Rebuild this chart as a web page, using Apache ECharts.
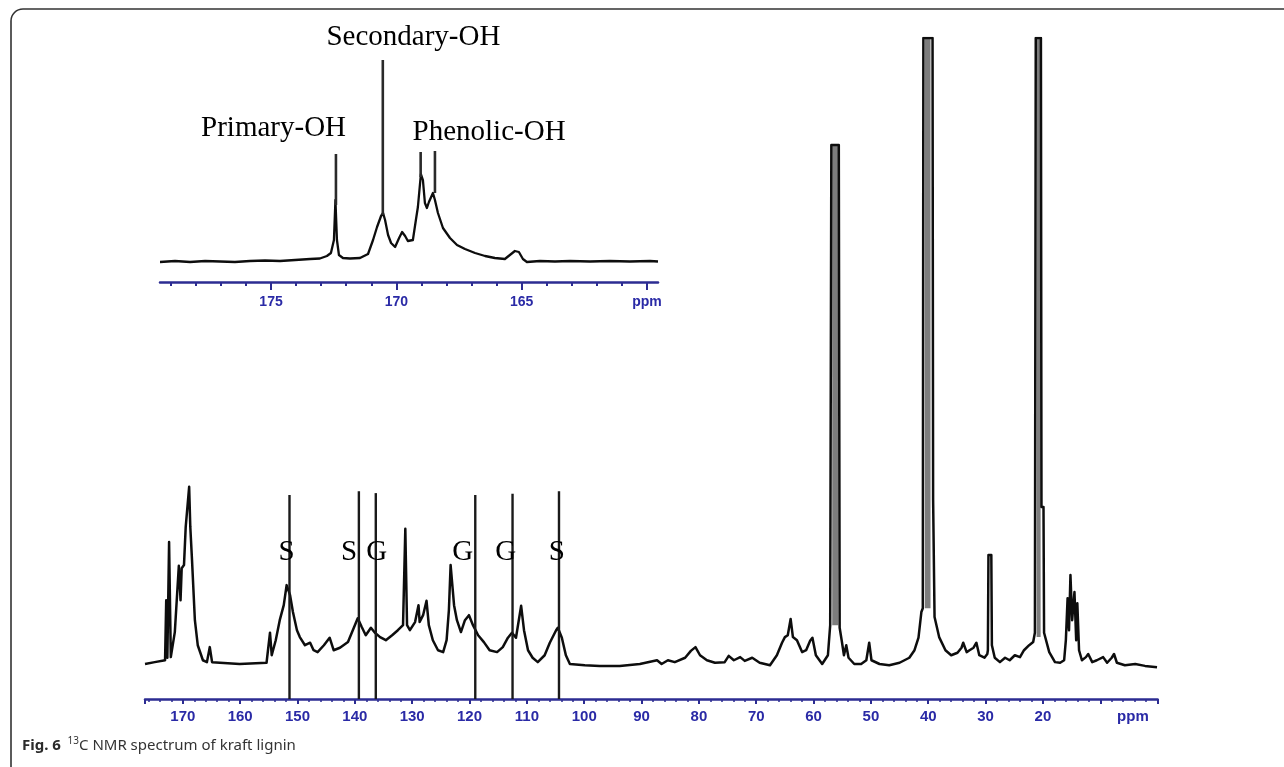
<!DOCTYPE html>
<html><head><meta charset="utf-8">
<script src="https://cdn.jsdelivr.net/npm/echarts@6/dist/echarts.min.js"></script>
<style>html,body{margin:0;padding:0;background:#fff}#c{width:1284px;height:767px}</style>
</head><body><div id="c"></div>
<script>
// ---------- DATA ----------
// Main 13C spectrum: [ppm, relative intensity] (100 = clipped top of plot)
const mainSpectrum = [
 [176.6,0],[174.9,0.3],[173.1,0.6],[172.9,10.2],[172.7,1.0],[172.4,19.5],[172.1,1.1],[171.4,5.1],
 [170.7,15.7],[170.4,10.2],[170.2,15.3],[169.8,15.8],[169.5,21.9],[168.9,28.3],[168.7,21.9],[168.4,16.6],
 [167.9,7.0],[167.4,3.0],[166.5,0.6],[165.8,0.3],[165.3,2.7],[164.9,0.3],[160.1,0],[155.4,0.2],
 [154.8,5.0],[154.5,1.4],[153.8,3.8],[153.1,7.0],[152.4,9.4],[151.9,12.6],[151.3,11.0],[150.8,8.3],
 [150.1,5.4],[149.6,4.3],[148.7,3.0],[147.8,3.4],[147.2,2.2],[146.5,1.9],[145.4,3.0],[144.4,4.2],
 [143.7,2.2],[142.6,2.6],[141.2,3.5],[140.0,6.2],[139.5,7.3],[138.8,5.9],[138.1,4.6],[137.2,5.8],
 [136.5,5.0],[135.6,4.3],[134.6,3.8],[133.5,4.6],[132.5,5.4],[131.6,6.2],[131.2,21.6],[130.9,6.2],
 [130.4,5.4],[129.5,6.7],[128.9,9.4],[128.7,6.7],[128.1,7.8],[127.5,10.1],[127.1,6.2],[126.4,3.8],
 [125.5,2.2],[124.6,1.9],[124.0,3.8],[123.6,8.6],[123.3,15.8],[123.0,15.5],[122.7,9.4],[122.2,7.0],
 [121.5,5.1],[120.8,7.0],[120.1,7.8],[119.4,6.2],[118.5,4.6],[117.5,3.5],[116.5,2.2],[115.2,1.9],
 [114.2,2.7],[113.3,4.2],[112.6,5.0],[111.9,4.2],[111.0,9.3],[110.5,5.4],[109.8,2.2],[109.0,1.0],
 [108.1,0.3],[106.9,1.4],[106.0,3.4],[104.9,5.4],[104.6,5.8],[103.9,4.2],[103.2,1.4],[102.5,0],
 [99.9,-0.2],[97.3,-0.3],[93.8,-0.3],[90.3,0],[87.3,0.6],[86.5,0],[85.4,0.6],[84.2,0.3],
 [82.4,1.0],[81.4,2.1],[80.6,2.7],[79.8,1.4],[78.6,0.6],[77.2,0.2],[75.5,0.3],[74.8,1.3],
 [73.9,0.6],[72.8,1.1],[72.0,0.5],[70.7,1.0],[69.4,0.2],[67.6,-0.2],[66.4,1.4],[65.5,3.4],
 [65.0,4.3],[64.5,4.6],[64.0,7.2],[63.6,4.3],[62.9,3.8],[62.0,1.9],[61.3,2.2],[60.6,3.7],
 [60.2,4.2],[59.6,1.4],[58.5,0],[57.5,1.4],[57.1,6.2],[56.9,82.9],[55.6,82.9],[55.45,5.8],
 [55.1,3.8],[54.7,1.4],[54.3,3.0],[53.9,1.0],[52.9,0],[51.7,0],[50.8,0.6],[50.3,3.4],
 [49.9,0.6],[48.5,0],[46.8,-0.2],[45.0,0.2],[43.3,1.0],[42.4,2.2],[41.7,4.2],[41.2,8.3],
 [40.95,8.9],[40.85,100],[39.25,100],[39.15,26.2],[39.0,26.2],[38.9,7.5],[38.6,7.5],[38.1,4.3],
 [37.0,2.2],[36.0,1.4],[34.9,1.8],[34.2,2.6],[33.9,3.4],[33.3,1.9],[32.8,2.2],[32.1,2.6],
 [31.6,3.4],[31.1,1.4],[30.2,1.0],[29.7,1.6],[29.6,2.2],[29.5,17.4],[29.0,17.4],[28.9,3.0],
 [28.4,1.0],[27.5,0.3],[26.6,1.0],[25.8,0.6],[24.9,1.4],[24.0,1.1],[23.3,2.2],[22.4,3.0],
 [21.7,3.5],[21.4,5.0],[21.25,100],[20.35,100],[20.25,25.1],[19.9,25.1],[19.8,5.0],[19.5,5.0],
 [18.9,1.9],[17.9,0.3],[17.0,0.2],[16.3,0.6],[16.0,3.8],[15.7,10.5],[15.45,5.4],[15.2,14.2],
 [14.9,7.0],[14.5,11.5],[14.2,3.8],[14.0,9.7],[13.7,2.2],[13.2,0.6],[12.5,1.1],[12.1,1.6],
 [11.4,0.3],[10.6,0.6],[9.5,1.1],[8.8,0.2],[8.0,1.0],[7.6,1.6],[7.1,0.2],[5.7,-0.2],
 [3.9,0],[2.2,-0.3],[0.1,-0.5]
];
// unresolved (grey) parts of the very tall peaks: [ppmHigh, ppmLow, intensityLow, intensityHigh]
const tallPeakBands = [
 [56.75,55.7,6.2,82.9],
 [40.6,39.6,8.9,100],
 [21.1,20.4,4.3,100]
];
const mainTickLabels = [170,160,150,140,130,120,110,100,90,80,70,60,50,40,30,20];
const mainUnitLabelPpm = 4.3;
// S / G assignment lines
const assignPpm = [151.4,139.3,136.35,119.0,112.5,104.4];
const assignTop = [27.0,27.6,27.3,27.0,27.2,27.6];
const assignLetters = ['S','S','G','G','G','S'];
const letterPpm = [151.9,141.0,136.2,121.2,113.7,104.8];
const letterLevel = 17.9;

// Inset: 13C carbonyl region
const insetSpectrum = [
 [179.43,0],[178.83,0.5],[178.23,0],[177.63,0.5],[177.03,0.25],[176.44,0],[175.84,0.5],[175.24,0.75],
 [174.64,0.5],[174.04,1],[173.44,1.5],[173.05,1.75],[172.77,3],[172.61,4.5],[172.49,11],[172.43,31],
 [172.37,11],[172.29,3.5],[172.13,2],[171.85,1.75],[171.45,2],[171.13,4],[170.93,11],[170.77,17.5],
 [170.61,23],[170.53,24.5],[170.45,21],[170.33,13.5],[170.21,9.5],[170.05,7.5],[169.89,12],[169.77,15],
 [169.65,13],[169.54,10.5],[169.34,11],[169.22,21],[169.14,27.5],[169.02,44],[168.94,41],[168.86,29.5],
 [168.78,27],[168.70,30],[168.54,34.5],[168.46,31],[168.34,24.5],[168.14,17],[167.86,12],[167.58,8.5],
 [167.26,6.5],[166.86,4.5],[166.46,3],[166.07,2],[165.67,1.5],[165.47,3.5],[165.27,5.5],[165.11,5],
 [164.95,1.5],[164.79,0],[164.27,0.5],[163.67,0.25],[163.07,0.5],[162.27,0.25],[161.48,0.5],[160.68,0.25],
 [159.88,0.5],[159.56,0.25]
];
const insetMajorTicks = [175,170,165,160];
const insetTickLabels = ['175','170','165','ppm'];
const insetMinorTicks = [179,178,177,176,174,173,172,171,169,168,167,166,164,163,162,161];
// OH annotation lines: [ppm, lowIntensity, highIntensity]
const insetMarks = [
 [172.41,28.5,54],
 [170.54,23.5,101],
 [169.03,42.5,55],
 [168.46,34.5,55.5]
];
const insetTextNames = ['Primary-OH','Secondary-OH','Phenolic-OH'];
const insetTextPos = [[174.9,67],[169.32,112.5],[166.3,65]];

// ---------- CHART ----------
const chart = echarts.init(document.getElementById('c'), null, {renderer:'canvas'});
const AX_BLUE = '#2c2c92', LBL_BLUE = '#2a2aa6';
const MAIN_MIN_Y = -5.59;

function vline(color, width){
  return function(params, api){
    const a = api.coord([api.value(0), api.value(1)]);
    const b = api.coord([api.value(0), api.value(2)]);
    return {type:'line', shape:{x1:a[0],y1:a[1],x2:b[0],y2:b[1]}, style:{stroke:color, lineWidth:width}};
  };
}
function band(color){
  return function(params, api){
    const a = api.coord([api.value(0), api.value(3)]);
    const b = api.coord([api.value(1), api.value(2)]);
    return {type:'rect', shape:{x:Math.min(a[0],b[0]), y:a[1], width:Math.abs(b[0]-a[0]), height:b[1]-a[1]}, style:{fill:color}};
  };
}
const serifLabel = {show:true, position:'inside', formatter:p=>p.name, color:'#000', opacity:1,
  fontFamily:'Liberation Serif', fontSize:29, textBorderWidth:0};

const option = {
  animation:false,
  backgroundColor:'#fff',
  grid:[
    {left:145, right:126.4, top:38, bottom:68},
    {left:160, right:626, top:20, bottom:485}
  ],
  xAxis:[
    {gridIndex:0, type:'value', inverse:true, min:0, max:176.6, interval:10, position:'bottom',
     axisLine:{show:true, onZero:false, lineStyle:{color:AX_BLUE, width:2.5}},
     axisTick:{show:true, length:5, lineStyle:{color:AX_BLUE, width:2}},
     minorTick:{show:true, splitNumber:5, length:3, lineStyle:{color:AX_BLUE, width:1.5}},
     splitLine:{show:false},
     axisLabel:{customValues: mainTickLabels.concat([mainUnitLabelPpm]), margin:10, color:LBL_BLUE, fontFamily:'Liberation Sans', fontWeight:'bold', fontSize:15,
       formatter:v => (v < 15 ? 'ppm' : String(v))}
    },
    {gridIndex:1, type:'value', inverse:true, min:159.56, max:179.43, position:'bottom',
     axisLine:{show:true, onZero:false, lineStyle:{color:AX_BLUE, width:2.5}},
     axisTick:{show:true, customValues:insetMajorTicks, length:8, lineStyle:{color:AX_BLUE, width:2}},
     splitLine:{show:false},
     axisLabel:{customValues:insetMajorTicks, margin:13, color:LBL_BLUE, fontFamily:'Liberation Sans', fontWeight:'bold', fontSize:14,
       formatter:v => insetTickLabels[insetMajorTicks.indexOf(v)] || ''}
    },
    {gridIndex:1, type:'value', inverse:true, min:159.56, max:179.43, position:'bottom', offset:0,
     axisLine:{show:false, onZero:false},
     axisTick:{show:true, customValues:insetMinorTicks, length:4, lineStyle:{color:AX_BLUE, width:2}},
     splitLine:{show:false}, axisLabel:{show:false}
    }
  ],
  yAxis:[
    {gridIndex:0, type:'value', min:MAIN_MIN_Y, max:100, show:false, splitLine:{show:false}},
    {gridIndex:1, type:'value', min:-10, max:121, show:false, splitLine:{show:false}}
  ],
  series:[
    {type:'custom', xAxisIndex:0, yAxisIndex:0, data:tallPeakBands, renderItem:band('#7d7d7d'), z:1, silent:true},
    {type:'line', xAxisIndex:0, yAxisIndex:0, data:mainSpectrum, symbol:'none', clip:true,
     lineStyle:{color:'#0d0d0d', width:2.5, join:'round'}, z:3, silent:true},
    {type:'custom', xAxisIndex:0, yAxisIndex:0, z:4, silent:true,
     data:assignPpm.map((p,i)=>[p, MAIN_MIN_Y, assignTop[i]]), renderItem:vline('#1a1a1a', 2.4)},
    {type:'scatter', xAxisIndex:0, yAxisIndex:0, symbolSize:0, z:5, silent:true, itemStyle:{opacity:1},
     data:letterPpm.map((p,i)=>({value:[p, letterLevel], name:assignLetters[i]})),
     label:serifLabel},
    {type:'line', xAxisIndex:1, yAxisIndex:1, data:insetSpectrum, symbol:'none', clip:true,
     lineStyle:{color:'#0d0d0d', width:2.3, join:'round'}, z:3, silent:true},
    {type:'custom', xAxisIndex:1, yAxisIndex:1, z:4, silent:true, data:insetMarks, renderItem:vline('#2a2a2a', 2.6)},
    {type:'scatter', xAxisIndex:1, yAxisIndex:1, symbolSize:0, z:5, silent:true, itemStyle:{opacity:1},
     data:insetTextPos.map((p,i)=>({value:p, name:insetTextNames[i]})),
     label:serifLabel}
  ],
  graphic:[
    {type:'rect', silent:true, shape:{x:11, y:9, width:1400, height:900, r:[12,0,0,0]},
     style:{fill:null, stroke:'#333', lineWidth:1.6}},
    {type:'text', left:22, top:736, silent:true,
     style:{rich:{
       b:{fontFamily:'Noto Sans', fontWeight:'bold', fontSize:15, fill:'#2b2b2b'},
       s:{fontFamily:'Noto Sans', fontSize:10, fill:'#333', padding:[0,0,9,0]},
       n:{fontFamily:'Noto Sans', fontSize:15, fill:'#333'}
     }, text:'{b|Fig. 6}  {s|13}{n|C NMR spectrum of kraft lignin}'}}
  ]
};
chart.setOption(option);
</script>
</body></html>
